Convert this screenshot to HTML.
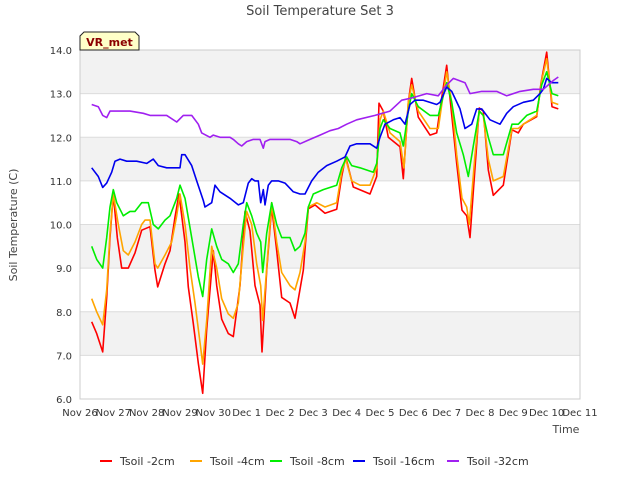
<!DOCTYPE html>
<html><head><meta charset="utf-8"><style>
body{margin:0;background:#fff;}
svg{display:block;font-family:"DejaVu Sans","Liberation Sans",sans-serif;}
</style></head><body>
<svg id="chart" width="640" height="480" viewBox="0 0 640 480" xmlns="http://www.w3.org/2000/svg">
<rect width="640" height="480" fill="#fff"/>
<text x="320" y="15" text-anchor="middle" font-size="13" fill="#444">Soil Temperature Set 3</text>
<g id="bands"></g>
<g id="grid"></g>
<rect x="80" y="50" width="500" height="349" fill="none" stroke="#ccc"/>
<g id="yticks"></g>
<g id="xticks"></g>
<g id="series"></g>
<text transform="translate(17,225) rotate(-90)" text-anchor="middle" font-size="11" fill="#444">Soil Temperature (C)</text>
<text x="566" y="433" text-anchor="middle" font-size="11" fill="#444">Time</text>
<g>
<path d="M80,50 L80,36 L84,32 L135,32 L139,36 L139,50 Z" fill="#ffffc8" stroke="#222"/>
<text x="109.5" y="46" text-anchor="middle" font-size="11" font-weight="bold" fill="#8b0000">VR_met</text>
</g>
<g id="legend"></g>
</svg>
<script>
const yTicks=[6,7,8,9,10,11,12,13,14];
const yTickLabels=["6.0","7.0","8.0","9.0","10.0","11.0","12.0","13.0","14.0"];
const xTickLabels=["Nov 26","Nov 27","Nov 28","Nov 29","Nov 30","Dec 1","Dec 2","Dec 3","Dec 4","Dec 5","Dec 6","Dec 7","Dec 8","Dec 9","Dec 10","Dec 11"];
const seriesNames=["Tsoil -2cm","Tsoil -4cm","Tsoil -8cm","Tsoil -16cm","Tsoil -32cm"];
const seriesColors=["#ff0000","#ffa500","#00ee00","#0000ee","#a020f0"];
const tsoil2=[[0.35,7.77],[0.5,7.5],[0.68,7.08],[0.8,8.33],[0.9,9.7],[1.0,10.7],[1.12,9.7],[1.25,9.0],[1.45,9.0],[1.65,9.35],[1.85,9.87],[2.1,9.95],[2.25,8.95],[2.33,8.57],[2.55,9.1],[2.7,9.4],[2.85,10.17],[2.97,10.7],[3.15,9.6],[3.25,8.57],[3.4,7.73],[3.55,6.82],[3.68,6.13],[3.8,7.6],[4.0,9.4],[4.1,8.6],[4.25,7.83],[4.45,7.5],[4.6,7.43],[4.8,8.6],[4.95,10.3],[5.1,9.85],[5.25,8.6],[5.4,8.15],[5.46,7.08],[5.6,8.95],[5.75,10.4],[5.9,9.4],[6.05,8.33],[6.3,8.2],[6.45,7.85],[6.7,8.95],[6.85,10.36],[7.05,10.45],[7.35,10.26],[7.7,10.35],[7.85,11.1],[7.97,11.55],[8.2,10.86],[8.7,10.7],[8.9,11.1],[8.97,12.78],[9.1,12.6],[9.25,12.0],[9.6,11.78],[9.7,11.05],[9.85,12.8],[9.95,13.35],[10.15,12.46],[10.5,12.05],[10.7,12.1],[10.85,12.9],[11.0,13.65],[11.1,12.9],[11.3,11.4],[11.46,10.33],[11.6,10.2],[11.7,9.7],[11.85,11.3],[11.98,12.67],[12.1,12.6],[12.25,11.25],[12.4,10.67],[12.7,10.9],[12.96,12.17],[13.15,12.1],[13.3,12.3],[13.7,12.47],[13.83,13.24],[14.0,13.95],[14.16,12.7],[14.35,12.65]];
const tsoil4=[[0.35,8.3],[0.5,8.0],[0.68,7.7],[0.8,8.5],[0.9,9.8],[1.0,10.7],[1.15,10.0],[1.3,9.4],[1.45,9.3],[1.65,9.6],[1.85,10.0],[1.95,10.1],[2.1,10.1],[2.25,9.1],[2.33,9.0],[2.55,9.3],[2.75,9.6],[2.9,10.2],[3.0,10.7],[3.15,10.0],[3.3,9.0],[3.45,8.2],[3.6,7.3],[3.68,6.8],[3.8,7.8],[3.95,9.5],[4.1,9.0],[4.25,8.3],[4.45,7.95],[4.6,7.85],[4.75,8.2],[4.9,9.5],[5.0,10.3],[5.15,10.0],[5.3,9.1],[5.42,8.6],[5.48,7.8],[5.6,9.0],[5.75,10.5],[5.9,9.6],[6.05,8.9],[6.3,8.6],[6.45,8.5],[6.6,8.9],[6.75,9.6],[6.85,10.4],[7.1,10.5],[7.35,10.4],[7.7,10.5],[7.85,11.2],[7.97,11.5],[8.15,11.0],[8.4,10.9],[8.7,10.9],[8.9,11.3],[9.0,12.4],[9.1,12.6],[9.3,12.1],[9.6,11.9],[9.72,11.3],[9.85,12.8],[9.95,13.2],[10.15,12.6],[10.5,12.2],[10.75,12.2],[10.88,12.9],[11.0,13.5],[11.15,12.8],[11.3,11.6],[11.46,10.6],[11.6,10.4],[11.68,10.0],[11.85,11.6],[11.98,12.6],[12.1,12.5],[12.25,11.5],[12.4,11.0],[12.7,11.1],[12.96,12.2],[13.15,12.2],[13.3,12.3],[13.7,12.5],[13.85,13.3],[14.0,13.8],[14.16,12.8],[14.35,12.75]];
const tsoil8=[[0.35,9.5],[0.5,9.2],[0.68,9.0],[0.8,9.7],[0.9,10.4],[1.0,10.8],[1.1,10.5],[1.3,10.2],[1.5,10.3],[1.65,10.3],[1.85,10.5],[2.05,10.5],[2.2,10.0],[2.35,9.9],[2.55,10.1],[2.7,10.2],[2.9,10.6],[3.0,10.9],[3.15,10.6],[3.35,9.7],[3.55,8.8],[3.68,8.35],[3.8,9.2],[3.95,9.9],[4.1,9.5],[4.25,9.2],[4.45,9.1],[4.6,8.9],[4.75,9.1],[4.9,10.0],[5.0,10.5],[5.15,10.2],[5.3,9.8],[5.42,9.6],[5.48,8.9],[5.6,9.8],[5.75,10.5],[5.9,10.0],[6.05,9.7],[6.3,9.7],[6.45,9.4],[6.6,9.5],[6.75,9.8],[6.85,10.4],[7.0,10.7],[7.3,10.8],[7.7,10.9],[7.85,11.3],[8.0,11.55],[8.15,11.35],[8.4,11.3],[8.8,11.2],[8.9,11.4],[9.0,12.2],[9.1,12.4],[9.3,12.2],[9.6,12.1],[9.7,11.8],[9.85,12.6],[9.95,13.0],[10.15,12.7],[10.5,12.5],[10.75,12.5],[10.88,12.9],[11.0,13.25],[11.15,12.8],[11.3,12.1],[11.5,11.6],[11.65,11.1],[11.8,11.8],[11.98,12.6],[12.1,12.5],[12.25,12.0],[12.4,11.6],[12.7,11.6],[12.96,12.3],[13.15,12.3],[13.4,12.5],[13.7,12.6],[13.85,13.2],[14.0,13.5],[14.16,13.0],[14.35,12.95]];
const tsoil16=[[0.35,11.3],[0.55,11.1],[0.68,10.85],[0.8,10.95],[0.95,11.2],[1.05,11.45],[1.2,11.5],[1.4,11.45],[1.7,11.45],[2.0,11.4],[2.2,11.5],[2.35,11.35],[2.6,11.3],[2.85,11.3],[3.0,11.3],[3.05,11.6],[3.15,11.6],[3.35,11.35],[3.5,11.0],[3.7,10.55],[3.75,10.4],[3.95,10.5],[4.05,10.9],[4.2,10.75],[4.5,10.6],[4.75,10.45],[4.9,10.5],[5.05,10.95],[5.15,11.05],[5.25,11.0],[5.35,11.0],[5.42,10.5],[5.5,10.8],[5.55,10.45],[5.65,10.9],[5.75,11.0],[5.95,11.0],[6.15,10.95],[6.4,10.75],[6.6,10.7],[6.75,10.7],[6.95,11.0],[7.15,11.2],[7.4,11.35],[7.7,11.45],[7.95,11.55],[8.1,11.8],[8.3,11.85],[8.7,11.85],[8.9,11.75],[9.0,12.0],[9.15,12.3],[9.4,12.4],[9.6,12.45],[9.75,12.3],[9.9,12.75],[10.05,12.85],[10.3,12.85],[10.7,12.75],[10.8,12.8],[11.0,13.15],[11.15,13.05],[11.4,12.65],[11.55,12.2],[11.75,12.3],[11.9,12.65],[12.05,12.65],[12.3,12.4],[12.6,12.3],[12.8,12.55],[13.0,12.7],[13.3,12.8],[13.6,12.85],[13.8,13.0],[13.9,13.1],[14.0,13.35],[14.15,13.25],[14.35,13.25]];
const tsoil32=[[0.35,12.75],[0.55,12.7],[0.68,12.5],[0.8,12.45],[0.9,12.6],[1.1,12.6],[1.5,12.6],[1.9,12.55],[2.1,12.5],[2.4,12.5],[2.6,12.5],[2.9,12.35],[3.1,12.5],[3.35,12.5],[3.55,12.3],[3.65,12.1],[3.9,12.0],[4.0,12.05],[4.2,12.0],[4.5,12.0],[4.6,11.95],[4.75,11.85],[4.85,11.8],[5.0,11.9],[5.2,11.95],[5.4,11.95],[5.5,11.75],[5.55,11.9],[5.7,11.95],[6.0,11.95],[6.3,11.95],[6.5,11.9],[6.6,11.85],[6.9,11.95],[7.2,12.05],[7.5,12.15],[7.75,12.2],[8.0,12.3],[8.3,12.4],[8.85,12.5],[9.3,12.6],[9.65,12.85],[9.95,12.9],[10.4,13.0],[10.75,12.95],[11.0,13.2],[11.2,13.35],[11.55,13.25],[11.7,13.0],[12.05,13.05],[12.5,13.05],[12.8,12.95],[13.2,13.05],[13.6,13.1],[13.9,13.1],[14.2,13.3],[14.35,13.38]];
const allSeries=[tsoil2,tsoil4,tsoil8,tsoil16,tsoil32];

const NS="http://www.w3.org/2000/svg";
const X0=80,X1=580,Y0=399,Y1=50,DMAX=15,VMIN=6,VMAX=14;
function xs(d){return X0+(X1-X0)*d/DMAX;}
function ys(v){return Y0-(Y0-Y1)*(v-VMIN)/(VMAX-VMIN);}
function mk(tag,attrs,parent){const e=document.createElementNS(NS,tag);for(const k in attrs)e.setAttribute(k,attrs[k]);parent.appendChild(e);return e;}

const bands=document.getElementById('bands');
for(let i=0;i<yTicks.length-1;i++){
  if((yTicks.length-2-i)%2===0){
    const b=mk('rect',{x:X0,y:ys(yTicks[i+1]),width:X1-X0,height:ys(yTicks[i])-ys(yTicks[i+1]),fill:'#f2f2f2'},bands);
    
    
  }
}
const grid=document.getElementById('grid'),yt=document.getElementById('yticks');
yTicks.forEach((v,i)=>{
  const l=mk('line',{x1:X0,x2:X1,y1:ys(v),y2:ys(v),stroke:'#dcdcdc'},grid);
  
  
  const t=mk('text',{x:X0-8,y:ys(v)+4,'text-anchor':'end','font-size':'10',fill:'#333'},yt);
  t.textContent=yTickLabels[i];
  
  
});
const xt=document.getElementById('xticks');
xTickLabels.forEach((s,i)=>{
  const t=mk('text',{x:xs(i),y:416,'text-anchor':'middle','font-size':'10',fill:'#333'},xt);
  t.textContent=s;
  
  
});
const sg=document.getElementById('series');
allSeries.forEach((data,i)=>{
  const p=mk('polyline',{points:data.map(p=>xs(p[0]).toFixed(1)+','+ys(p[1]).toFixed(1)).join(' '),fill:'none',stroke:seriesColors[i],'stroke-width':'1.6','stroke-linejoin':'round'},sg);
  
  
});
const lg=document.getElementById('legend');
const lx=[100,190,270,353,447];
seriesNames.forEach((s,i)=>{
  const g=mk('g',{},lg);
  
  
  mk('line',{x1:lx[i],x2:lx[i]+12,y1:461,y2:461,stroke:seriesColors[i],'stroke-width':'2'},g);
  const t=mk('text',{x:lx[i]+20,y:465,'font-size':'11',fill:'#333'},g);
  t.textContent=s;
});
</script>
</body></html>
